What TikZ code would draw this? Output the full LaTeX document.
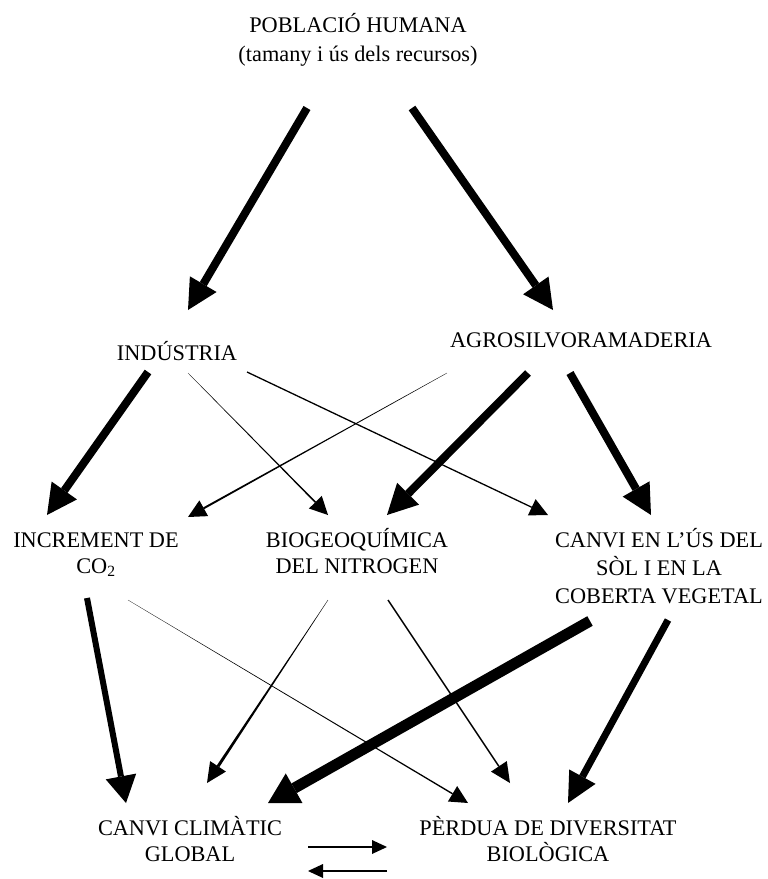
\documentclass[tikz,border=0pt]{standalone}
\usepackage{fontspec}
\setmainfont{Liberation Serif}
\usetikzlibrary{arrows.meta,calc}

% tapered shaft: start, tip, half width at start, half width at head, head length, head width
\newcommand\wedgearrow[6]{%
  \coordinate (wb) at ($(#2)!#5!(#1)$);
  \fill ($(#1)!#3!90:(#2)$) -- ($(wb)!#4!-90:(#1)$) -- ($(wb)!#4!90:(#1)$) -- ($(#1)!#3!-90:(#2)$) -- cycle;
  \draw[line width=0.5pt,-{Triangle[length=#5,width=#6,line width=0pt]}] (wb) -- (#2);
}

\begin{document}
\begin{tikzpicture}[x=1pt,y=-1pt,
  lbl/.style={anchor=base,align=center,inner sep=0pt,font=\fontsize{22.3}{28}\selectfont},
  heavy/.style={line width=8pt,-{Triangle[length=30pt,width=31pt,line width=0pt]}},
  fine/.style={line width=1.3pt,-{Triangle[length=18pt,width=18pt,line width=0pt]}},
  swap/.style={line width=2pt,-{Triangle[length=15pt,width=14pt,line width=0pt]}},
]
\useasboundingbox[fill=white] (0,0) rectangle (768,879);

% labels (anchored at the baseline of their last line)
\node[lbl,font=\fontsize{22.3}{29}\selectfont] (pob) at (358,61) {POBLACIÓ HUMANA\\(tamany i ús dels recursos)};
\node[lbl] (ind) at (177,360) {INDÚSTRIA};
\node[lbl] (agro) at (581,347) {AGROSILVORAMADERIA};
\node[lbl,font=\fontsize{22.3}{26}\selectfont] (co2) at (96,573) {INCREMENT DE\\CO\textsubscript{2}};
\node[lbl,font=\fontsize{22.3}{26}\selectfont] (nit) at (357,573) {BIOGEOQUÍMICA\\DEL NITROGEN};
\node[lbl] (sol) at (659,603) {CANVI EN L’ÚS DEL\\SÒL I EN LA\\COBERTA VEGETAL};
\node[lbl,font=\fontsize{22.3}{26}\selectfont] (clim) at (190,861) {CANVI CLIMÀTIC\\GLOBAL};
\node[lbl,font=\fontsize{22.3}{26}\selectfont] (perd) at (548,861) {PÈRDUA DE DIVERSITAT\\BIOLÒGICA};

% connector ends
\coordinate (pob-l) at (307,108);  \coordinate (ind-in)  at (188,310);
\coordinate (pob-r) at (412,108);  \coordinate (agro-in) at (553,310);
\coordinate (ind-a) at (148,372);  \coordinate (ind-b) at (188,373);  \coordinate (ind-c) at (247,372);
\coordinate (agro-a) at (447,373); \coordinate (agro-b) at (528,373); \coordinate (agro-c) at (570,373);
\coordinate (co2-in1) at (47,515); \coordinate (co2-in2) at (188,517);
\coordinate (nit-in1) at (328,515); \coordinate (nit-in2) at (387,515);
\coordinate (sol-in1) at (548,515); \coordinate (sol-in2) at (651,515);
\coordinate (co2-a) at (87,598);   \coordinate (co2-b) at (128,600);
\coordinate (nit-a) at (328,600);  \coordinate (nit-b) at (388,600);
\coordinate (sol-a) at (590,621);  \coordinate (sol-b) at (668,620);
\coordinate (clim-in1) at (126,803); \coordinate (clim-in2) at (207,783); \coordinate (clim-in3) at (268,803);
\coordinate (perd-in1) at (468,803); \coordinate (perd-in2) at (510,783); \coordinate (perd-in3) at (568,803);
\coordinate (fb-a) at (308,847); \coordinate (fb-b) at (387,847);
\coordinate (fb-c) at (387,871); \coordinate (fb-d) at (308,871);

% population to sectors
\draw[heavy] (pob-l) -- (ind-in);
\draw[heavy] (pob-r) -- (agro-in);

% sectors to drivers
\draw[heavy] (ind-a) -- (co2-in1);
\wedgearrow{ind-b}{nit-in1}{0.15pt}{0.8pt}{18pt}{18pt}
\draw[fine] (ind-c) -- (sol-in1);
\wedgearrow{agro-a}{co2-in2}{0.15pt}{1pt}{18pt}{18pt}
\draw[heavy] (agro-b) -- (nit-in2);
\draw[heavy] (agro-c) -- (sol-in2);

% drivers to global effects
\draw[line width=6pt,-{Triangle[length=27pt,width=31pt,line width=0pt]}] (co2-a) -- (clim-in1);
\wedgearrow{co2-b}{perd-in1}{0.1pt}{0.7pt}{18pt}{18pt}
\wedgearrow{nit-a}{clim-in2}{0.15pt}{1.5pt}{20pt}{19pt}
\draw[line width=1.5pt,-{Triangle[length=20pt,width=19pt,line width=0pt]}] (nit-b) -- (perd-in2);
\draw[line width=11pt,-{Triangle[length=30pt,width=34pt,line width=0pt]}] (sol-a) -- (clim-in3);
\draw[line width=7pt,-{Triangle[length=30pt,width=30pt,line width=0pt]}] (sol-b) -- (perd-in3);

% mutual feedback
\draw[swap] (fb-a) -- (fb-b);
\draw[swap] (fb-c) -- (fb-d);
\end{tikzpicture}
\end{document}
